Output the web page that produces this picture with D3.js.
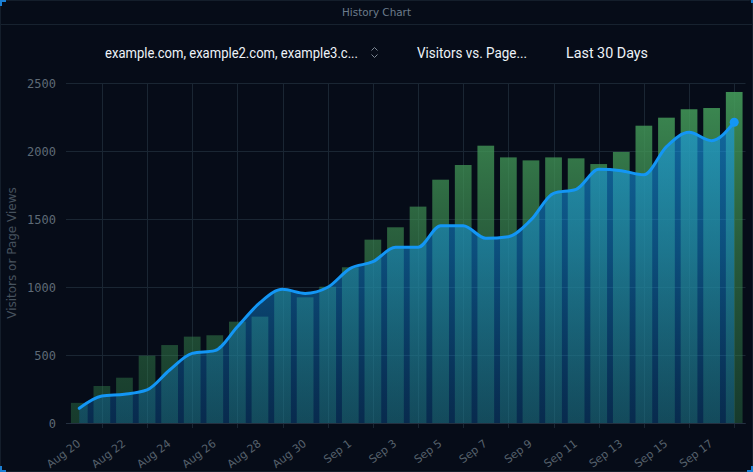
<!DOCTYPE html>
<html>
<head>
<meta charset="utf-8">
<script src="https://cdn.jsdelivr.net/npm/d3@7"></script>
<style>
  html, body { margin: 0; padding: 0; background: #060c18; }
  svg { display: block; }
</style>
</head>
<body>
<svg id="chart" width="753" height="472"></svg>
<script>
// ---- data ----
const dates = ["Aug 20","Aug 21","Aug 22","Aug 23","Aug 24","Aug 25","Aug 26","Aug 27","Aug 28","Aug 29","Aug 30","Aug 31",
  "Sep 1","Sep 2","Sep 3","Sep 4","Sep 5","Sep 6","Sep 7","Sep 8","Sep 9","Sep 10","Sep 11","Sep 12","Sep 13","Sep 14","Sep 15","Sep 16","Sep 17","Sep 18"];
const pageViews = [148,272,333,495,573,635,645,745,782,978,924,1002,
  1145,1348,1439,1591,1789,1897,2039,1953,1931,1953,1946,1904,1993,2186,2245,2307,2316,2434];
const visitors = [108,198,211,243,390,512,532,708,885,983,953,998,
  1137,1186,1292,1292,1451,1451,1358,1370,1493,1689,1718,1865,1855,1825,2032,2137,2076,2211];
const yTicks = [0,500,1000,1500,2000,2500];
const title = "History Chart";
const headerItems = ["example.com, example2.com, example3.c...", "Visitors vs. Page...", "Last 30 Days"];
const yAxisTitle = "Visitors or Page Views";

// ---- layout ----
const W = 753, H = 472;
const plot = {left: 68, right: 745.5, top: 83, bottom: 423};
const svg = d3.select("#chart");
const defs = svg.append("defs");

// background + frame
svg.append("rect").attr("x",0).attr("y",0).attr("width",W).attr("height",H).attr("fill","#060c18");
svg.append("rect").attr("x",0.5).attr("y",0.5).attr("width",W-1).attr("height",H-1).attr("rx",3)
  .attr("fill","none").attr("stroke","#141e2b").attr("stroke-width",1);
svg.append("line").attr("x1",1).attr("x2",W-1).attr("y1",24.5).attr("y2",24.5).attr("stroke","#17222f");
// corner accents
const acc = "#1b7fd4";
[[0,0,6,2],[0,0,2,6],[0,H-2,6,2],[0,H-6,2,6],[W-6,H-2,6,2],[W-2,H-6,2,6],[W-2,0,2,3]].forEach(r=>{
  svg.append("rect").attr("x",r[0]).attr("y",r[1]).attr("width",r[2]).attr("height",r[3]).attr("fill",acc);
});

// title
svg.append("text").attr("x",376.5).attr("y",16).attr("text-anchor","middle")
  .attr("font-family","'DejaVu Sans', sans-serif").attr("font-size",10.5).attr("fill","#6d7c8c")
  .attr("textLength",69).attr("lengthAdjust","spacingAndGlyphs").text(title);

// header controls
const hdr = [{x:105, w:253}, {x:417, w:110}, {x:566, w:82}];
headerItems.forEach((t,i)=>{
  svg.append("text").attr("x",hdr[i].x).attr("y",58)
    .attr("font-family","Roboto, 'DejaVu Sans', sans-serif").attr("font-size",15).attr("fill","#eef3f8")
    .attr("textLength",hdr[i].w).attr("lengthAdjust","spacingAndGlyphs").text(t);
});
// select chevrons
const chev = svg.append("g").attr("fill","none").attr("stroke","#7d8894").attr("stroke-width",1);
chev.append("path").attr("d","M371.5,50.5 L374.5,47.5 L377.5,50.5");
chev.append("path").attr("d","M371.5,54.5 L374.5,57.5 L377.5,54.5");

// scales
const x = d3.scaleBand().domain(dates).range([plot.left, plot.right]).padding(0);
const cx = d => x(d) + x.bandwidth()/2;
const barW = x.bandwidth()*0.74;
const y = d3.scaleLinear().domain([0,2500]).range([plot.bottom, plot.top]);

// gradients
const gGreen = defs.append("linearGradient").attr("id","gGreen").attr("gradientUnits","userSpaceOnUse")
  .attr("x1",0).attr("x2",0).attr("y1",plot.top).attr("y2",plot.bottom);
gGreen.append("stop").attr("offset","0").attr("stop-color","#46a05c").attr("stop-opacity",0.88);
gGreen.append("stop").attr("offset","0.5").attr("stop-color","#3c8a50").attr("stop-opacity",0.62);
gGreen.append("stop").attr("offset","1").attr("stop-color","#2e7a48").attr("stop-opacity",0.42);

const gBlue = defs.append("linearGradient").attr("id","gBlue").attr("gradientUnits","userSpaceOnUse")
  .attr("x1",0).attr("x2",0).attr("y1",plot.top).attr("y2",plot.bottom);
gBlue.append("stop").attr("offset","0").attr("stop-color","#1aa2f0").attr("stop-opacity",0.66);
gBlue.append("stop").attr("offset","0.5").attr("stop-color","#1290e0").attr("stop-opacity",0.5);
gBlue.append("stop").attr("offset","1").attr("stop-color","#0c6cc0").attr("stop-opacity",0.32);

// grid
const grid = svg.append("g");
yTicks.forEach(t=>{
  grid.append("line").attr("x1",plot.left-2).attr("x2",plot.right).attr("y1",Math.round(y(t))+0.5).attr("y2",Math.round(y(t))+0.5)
    .attr("stroke", t===0 ? "#243040" : "#1a2633").attr("stroke-width",1);
});
dates.forEach((d,i)=>{
  if (i%2===1) {
    const xx = Math.round(cx(d))+0.5;
    grid.append("line").attr("x1",xx).attr("x2",xx).attr("y1",plot.top).attr("y2",plot.bottom+5)
      .attr("stroke","#1a2633").attr("stroke-width",1);
  }
});

// bars
svg.append("g").selectAll("rect").data(pageViews).join("rect")
  .attr("x",(v,i)=>cx(dates[i])-barW/2).attr("width",barW)
  .attr("y",v=>y(v)).attr("height",v=>y(0)-y(v))
  .attr("fill","url(#gGreen)");

// area + line
const pts = visitors.map((v,i)=>[cx(dates[i]), y(v)]);
const area = d3.area().x(d=>d[0]).y0(y(0)).y1(d=>d[1]).curve(d3.curveMonotoneX);
const line = d3.line().x(d=>d[0]).y(d=>d[1]).curve(d3.curveMonotoneX);
svg.append("path").attr("d",area(pts)).attr("fill","url(#gBlue)");
svg.append("path").attr("d",line(pts)).attr("fill","none").attr("stroke","#1396f5").attr("stroke-width",3)
  .attr("stroke-linecap","round");
const last = pts[pts.length-1];
svg.append("circle").attr("cx",last[0]).attr("cy",last[1]).attr("r",4.5).attr("fill","#1396f5");

// axis line
svg.append("line").attr("x1",plot.left).attr("x2",plot.right).attr("y1",plot.bottom+0.5).attr("y2",plot.bottom+0.5)
  .attr("stroke","#243040");

// y tick labels
svg.append("g").selectAll("text").data(yTicks).join("text")
  .attr("x",56).attr("y",t=>y(t)+4.5).attr("text-anchor","end")
  .attr("font-family","'DejaVu Sans Mono', monospace").attr("font-size",12).attr("fill","#5e6a76")
  .text(t=>t);

// x tick labels
svg.append("g").selectAll("text").data(dates.filter((d,i)=>i%2===0)).join("text")
  .attr("transform",d=>`translate(${cx(d)+2},${445}) rotate(-37)`)
  .attr("text-anchor","end")
  .attr("font-family","'DejaVu Sans', sans-serif").attr("font-size",11).attr("fill","#56616c")
  .text(d=>d);

// y axis title
svg.append("text").attr("transform","translate(16,253) rotate(-90)").attr("text-anchor","middle")
  .attr("font-family","'DejaVu Sans', sans-serif").attr("font-size",12).attr("fill","#46525e")
  .text(yAxisTitle);
</script>
</body>
</html>
